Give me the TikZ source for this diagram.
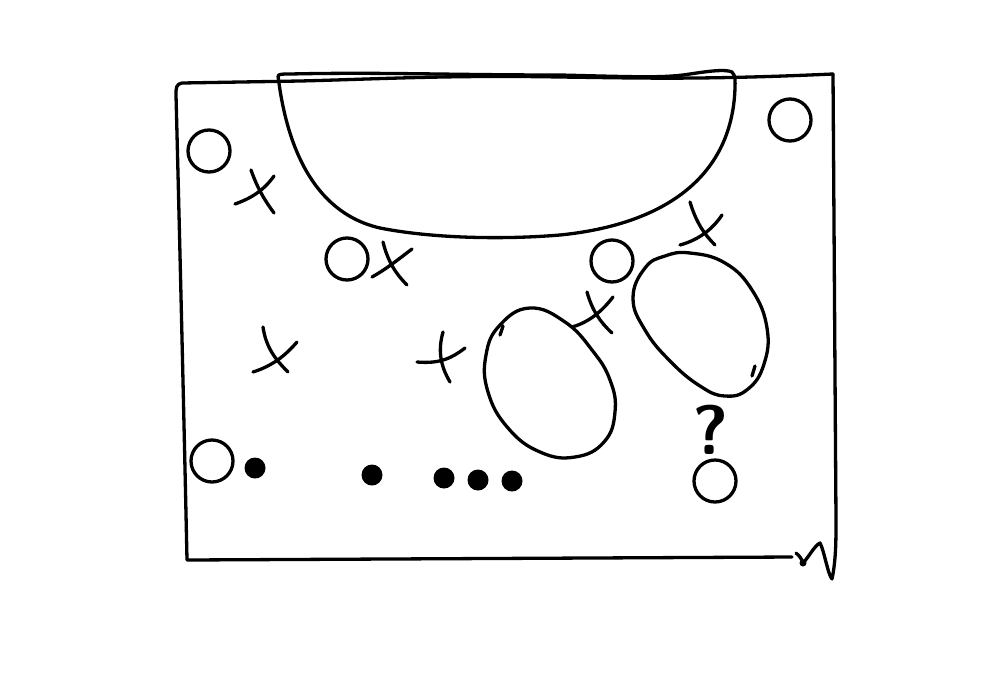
\documentclass[tikz,border=0pt]{standalone}
\begin{document}
\begin{tikzpicture}[x=1pt,y=-1pt,line width=3.3pt,line cap=round,line join=round,
  ink/.style={draw=black},
  hole/.style={draw=black,circle,inner sep=0pt,minimum size=42pt,line width=3.3pt},
  pip/.style={fill=black,circle,inner sep=0pt,minimum size=21pt}]
\useasboundingbox[fill=white] (0,0) rectangle (1000,675);
% frame
\draw[ink] (833,74) .. controls (700,80) and (640,78) .. (560,77)
  .. controls (450,75) and (380,79) .. (300,81) -- (182,83)
  .. controls (176,84) and (176,88) .. (176,95)
  .. controls (180,250) and (184,420) .. (187,560)
  -- (792,557);
\draw[ink] (796,553) .. controls (800,556) and (802,560) .. (803,563)
  .. controls (808,558) and (815,545) .. (820,543)
  .. controls (824,550) and (828,575) .. (832,579)
  .. controls (836,560) and (836,540) .. (836,520)
  .. controls (835,380) and (834,220) .. (833,74);
\fill (803,563) circle (3.5pt);
% bowl
\draw[ink] (278,76) .. controls (279,74) and (282,74) .. (290,74)
  .. controls (380,72) and (450,75) .. (560,75)
  .. controls (640,77) and (665,78) .. (690,74)
  .. controls (710,71) and (725,69) .. (732,72)
  .. controls (736,76) and (735,82) .. (735,88)
  .. controls (732,180) and (660,225) .. (560,235)
  .. controls (500,240) and (430,238) .. (380,228)
  .. controls (310,212) and (288,140) .. (280,90) -- (278,76);
% circles
\node[hole] (c1) at (209,151) {};
\node[hole] (c2) at (790,120) {};
\node[hole] (c3) at (347,259) {};
\node[hole] (c4) at (612,261) {};
\node[hole] (c5) at (212,461) {};
\node[hole] (c6) at (715,481) {};
% crosses
\draw[ink] (251,170) .. controls (258,190) and (266,202) .. (274,213);
\draw[ink] (235,204) .. controls (252,198) and (264,190) .. (274,176);
\draw[ink] (383,242) .. controls (388,262) and (396,274) .. (407,285);
\draw[ink] (372,277) .. controls (388,268) and (400,258) .. (412,249);
\draw[ink] (263,327) .. controls (266,348) and (276,360) .. (288,372);
\draw[ink] (253,372) .. controls (272,366) and (285,356) .. (297,342);
\draw[ink] (443,332) .. controls (438,350) and (440,365) .. (450,382);
\draw[ink] (417,362) .. controls (440,364) and (452,358) .. (465,348);
\draw[ink] (587,292) .. controls (592,310) and (600,322) .. (612,333);
\draw[ink] (572,327) .. controls (590,322) and (603,310) .. (613,297);
\draw[ink] (690,202) .. controls (696,222) and (704,234) .. (715,245);
\draw[ink] (680,245) .. controls (698,240) and (712,230) .. (722,215);
% ovals
\draw[ink] plot[smooth cycle,tension=0.75] coordinates {(530,308) (565,322) (592,350) (610,380) (615,412) (604,442) (575,457) (540,452) (508,428) (488,392) (486,355) (500,325)};
\draw[ink] (503,326) -- (500,335);
\draw[ink] plot[smooth cycle,tension=0.75] coordinates {(690,253) (725,263) (752,290) (767,328) (764,364) (748,389) (725,396) (700,386) (670,361) (645,330) (633,298) (645,268) (665,256)};
\draw[ink] (755,366) -- (752,376);
% dots
\node[pip] (d1) at (255,468) {};
\node[pip] (d2) at (372,475) {};
\node[pip] (d3) at (444,478) {};
\node[pip] (d4) at (478,480) {};
\node[pip] (d5) at (512,481) {};
% question mark
\node[inner sep=0pt] (q) at (711,430) {\fontsize{70}{70}\selectfont\bfseries\sffamily ?};
\end{tikzpicture}
\end{document}
